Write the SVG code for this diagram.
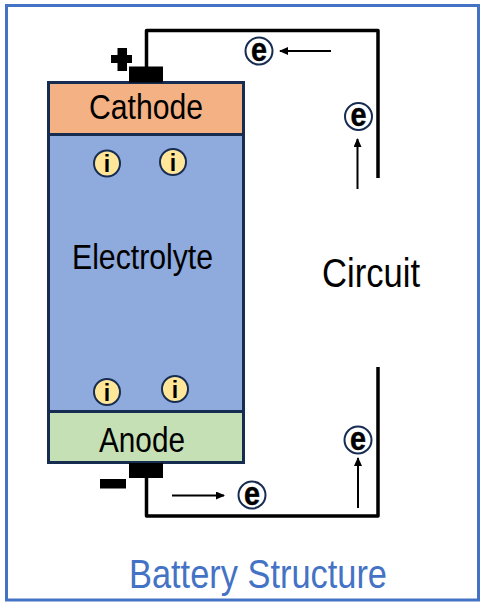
<svg xmlns="http://www.w3.org/2000/svg" width="483" height="607" viewBox="0 0 483 607">
<style>
text{font-family:"Liberation Sans",Arial,sans-serif;fill:#000;text-anchor:middle}
.lbl{font-size:35px}
.big{font-size:40px}
.wire{fill:none;stroke:#000;stroke-width:3.5;stroke-linejoin:round}
.arr{fill:none;stroke:#000;stroke-width:2;marker-end:url(#ah)}
.layer{stroke:#172c51;stroke-width:3}
.e circle{fill:#fff;stroke:#172c51;stroke-width:2}
.e text{font-size:33px;font-weight:bold;stroke:#000;stroke-width:.5}
.i circle{fill:#ffe699;stroke:#172c51;stroke-width:2}
.i text{font-size:23px;font-weight:bold}
</style>
<defs>
<marker id="ah" markerUnits="userSpaceOnUse" markerWidth="9" markerHeight="8" refX="8" refY="4" orient="auto"><path d="M0 0L9 4L0 8Z" fill="#000"/></marker>
</defs>
<rect x="0" y="0" width="483" height="607" fill="#fff"/>
<rect id="frame" x="6.500" y="5.500" width="472" height="594.500" fill="#fff" stroke="#4472c4" stroke-width="3"/>
<g id="connectors">
<path class="wire" d="M146.500 67V30.500H378V178"/>
<path class="wire" d="M146.500 478V516H378V367"/>
<path class="arr" d="M331 51H280"/>
<path class="arr" d="M357.500 189V139"/>
<path class="arr" d="M358 508V458"/>
<path class="arr" d="M172 495.500H224"/>
</g>
<g id="electrolyte"><rect class="layer" x="48.500" y="134.500" width="195" height="277" fill="#8faadc"/><text class="lbl" x="142.500" y="269" textLength="141" lengthAdjust="spacingAndGlyphs">Electrolyte</text></g>
<g id="cathode"><rect class="layer" x="48.500" y="82.500" width="195" height="52" fill="#f4b183"/><text class="lbl" x="146" y="118.500" textLength="114" lengthAdjust="spacingAndGlyphs">Cathode</text></g>
<g id="anode"><rect class="layer" x="48.500" y="411.500" width="195" height="51" fill="#c5e0b4"/><text class="lbl" x="142" y="452" textLength="86" lengthAdjust="spacingAndGlyphs">Anode</text></g>
<g id="terminal-pos"><rect x="129" y="66.500" width="34" height="16" fill="#000"/><path d="M117.500 48H127V55H132V63H127V71H117.500V63H111V55H117.500Z" fill="#000"/></g>
<g id="terminal-neg"><rect x="129" y="463" width="34" height="15" fill="#000"/><rect x="100" y="479" width="26" height="9.500" fill="#000"/></g>
<g id="e1" class="e"><circle cx="259" cy="51" r="13.500"/><text x="259" y="60.500" textLength="16" lengthAdjust="spacingAndGlyphs">e</text></g>
<g id="e2" class="e"><circle cx="358.500" cy="116.500" r="13.500"/><text x="358.500" y="126" textLength="16" lengthAdjust="spacingAndGlyphs">e</text></g>
<g id="e3" class="e"><circle cx="358" cy="440" r="13.500"/><text x="358" y="449.500" textLength="16" lengthAdjust="spacingAndGlyphs">e</text></g>
<g id="e4" class="e"><circle cx="252" cy="495" r="13.500"/><text x="252" y="504.500" textLength="16" lengthAdjust="spacingAndGlyphs">e</text></g>
<g id="i1" class="i"><circle cx="107" cy="163.500" r="13"/><text x="107" y="172">i</text></g>
<g id="i2" class="i"><circle cx="173" cy="162" r="13"/><text x="173" y="170.500">i</text></g>
<g id="i3" class="i"><circle cx="107" cy="392" r="13"/><text x="107" y="400.500">i</text></g>
<g id="i4" class="i"><circle cx="175" cy="389" r="13"/><text x="175" y="397.500">i</text></g>
<text class="big" x="371" y="286.500" textLength="98" lengthAdjust="spacingAndGlyphs">Circuit</text>
<text class="big" x="258" y="587.500" textLength="258" lengthAdjust="spacingAndGlyphs" style="fill:#4472c4">Battery Structure</text>
</svg>
